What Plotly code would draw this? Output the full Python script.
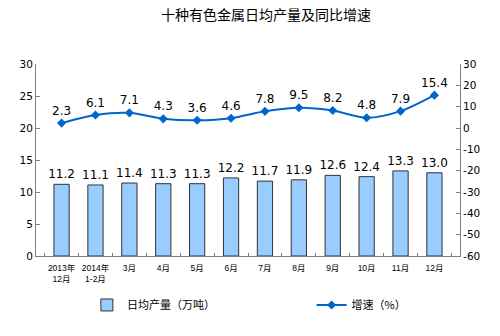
import plotly.graph_objects as go

categories = ["2013年<br>12月", "2014年<br>1-2月", "3月", "4月", "5月", "6月",
              "7月", "8月", "9月", "10月", "11月", "12月"]
output_vals = [11.2, 11.1, 11.4, 11.3, 11.3, 12.2, 11.7, 11.9, 12.6, 12.4, 13.3, 13.0]
growth_vals = [2.3, 6.1, 7.1, 4.3, 3.6, 4.6, 7.8, 9.5, 8.2, 4.8, 7.9, 15.4]
left_ticks = [0, 5, 10, 15, 20, 25, 30]
right_ticks = [-60, -50, -40, -30, -20, -10, 0, 10, 20, 30]

font_family = "Tahoma, DejaVu Sans, Noto Sans CJK SC, sans-serif"
cjk_family = "Noto Sans CJK SC, sans-serif"
axis_color = "#808080"

fig = go.Figure()
fig.add_trace(go.Bar(
    x=categories, y=output_vals, name="日均产量（万吨）", legend="legend",
    marker=dict(color="#99CCFF", line=dict(color="#333333", width=1)),
    width=0.45,
    text=[f"{v:.1f}" for v in output_vals], textposition="outside",
    constraintext="none", textangle=0,
    textfont=dict(size=12, color="#000000"), cliponaxis=False,
))
fig.add_trace(go.Scatter(
    x=categories, y=growth_vals, name="增速（%）", yaxis="y2", legend="legend2",
    mode="lines+markers+text",
    line=dict(color="#0066CC", width=2, shape="spline", smoothing=0.8),
    marker=dict(symbol="diamond", size=7, color="#0066CC"),
    text=[f"{v:.1f}" for v in growth_vals], textposition="top center",
    textfont=dict(size=12, color="#000000"), cliponaxis=False,
))

legend_style = dict(yanchor="middle", y=-0.255, xanchor="left",
                    font=dict(size=11, family=cjk_family), bgcolor="rgba(0,0,0,0)")

fig.update_layout(
    width=500, height=336,
    margin=dict(l=36, r=40, t=64, b=80),
    paper_bgcolor="white", plot_bgcolor="white",
    font=dict(family=font_family, size=10, color="#000000"),
    title=dict(text="十种有色金属日均产量及同比增速", x=0.532, xanchor="center",
               y=0.955, yanchor="middle",
               font=dict(size=14, family=cjk_family, color="#000000")),
    showlegend=True,
    legend=dict(x=0.12, **legend_style),
    legend2=dict(x=0.65, **legend_style),
    xaxis=dict(
        showline=True, linecolor=axis_color, linewidth=1,
        ticks="inside", ticklen=3, tickcolor=axis_color, tickson="boundaries",
        showgrid=False, tickangle=0, ticklabelstandoff=4,
        tickfont=dict(size=8.5, family="Liberation Sans, Noto Sans CJK SC, sans-serif"),
    ),
    yaxis=dict(
        range=[0, 30], tickvals=left_ticks, showline=True, linecolor=axis_color,
        linewidth=1, ticks="inside", ticklen=4, tickcolor=axis_color,
        showgrid=False, zeroline=False, tickfont=dict(size=10.5),
    ),
    yaxis2=dict(
        range=[-60, 30], tickvals=right_ticks,
        ticktext=[str(v) for v in right_ticks],
        overlaying="y", side="right",
        showline=True, linecolor=axis_color, linewidth=1, ticks="inside",
        ticklen=4, tickcolor=axis_color, showgrid=False, zeroline=False,
        tickfont=dict(size=10.5),
    ),
)

fig.write_html("out.html")
